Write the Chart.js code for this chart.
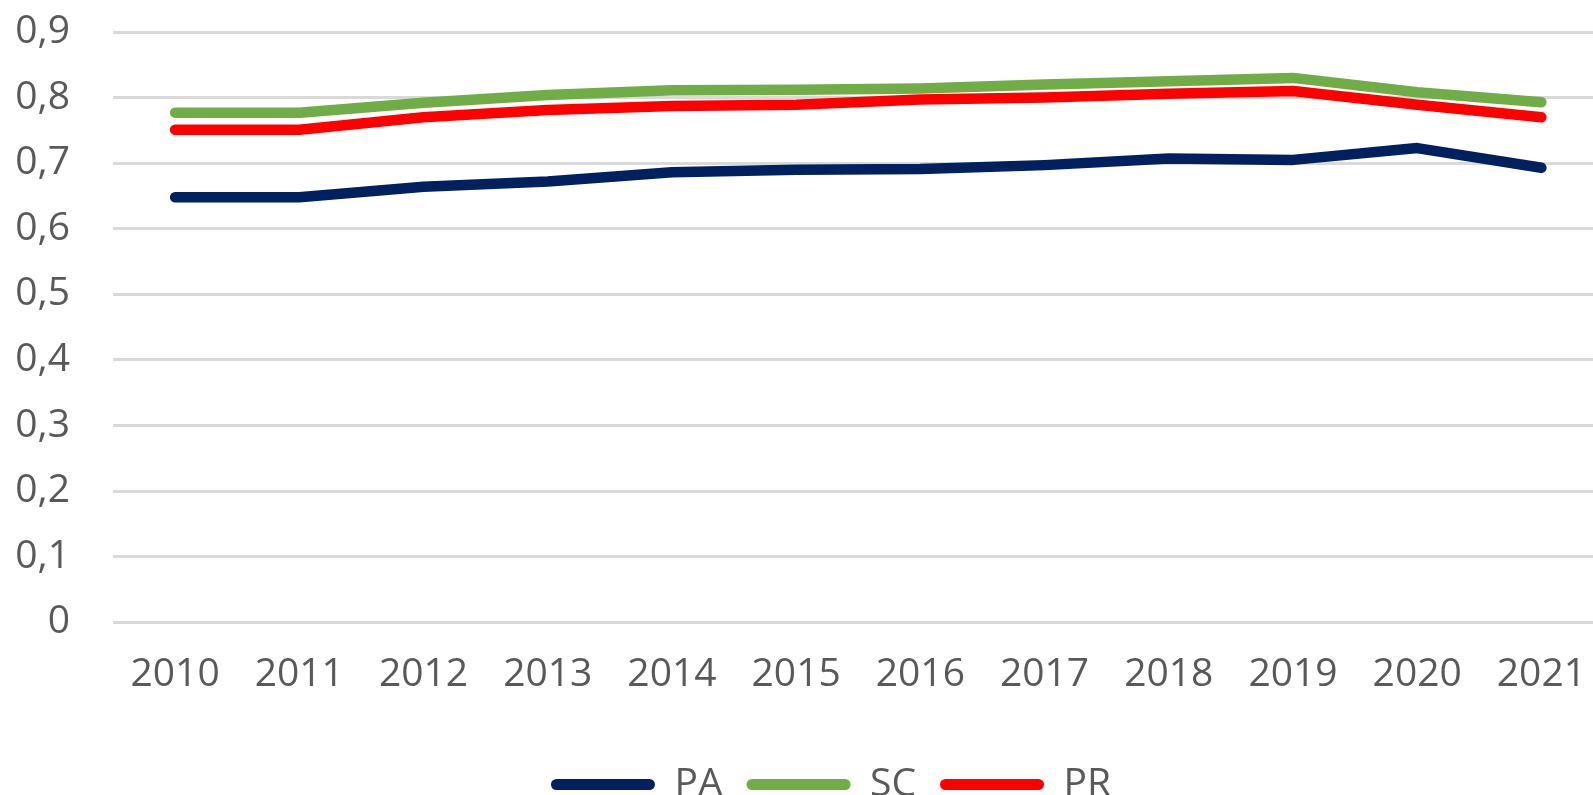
<!DOCTYPE html>
<html>
<head>
<meta charset="utf-8">
<script src="https://cdn.jsdelivr.net/npm/chart.js@4.4.1/dist/chart.umd.min.js"></script>
<style>
  html, body { margin: 0; padding: 0; background: #ffffff; overflow: hidden; }
  #wrap { position: absolute; left: 0; top: 0; width: 1607px; height: 814px; }
</style>
</head>
<body>
<div id="wrap"><canvas id="c"></canvas></div>
<script>
const categories = ['2010','2011','2012','2013','2014','2015','2016','2017','2018','2019','2020','2021'];
const seriesPA = [0.648,0.648,0.664,0.672,0.686,0.690,0.691,0.697,0.707,0.705,0.723,0.693];
const seriesSC = [0.777,0.777,0.792,0.804,0.811,0.812,0.814,0.820,0.825,0.830,0.808,0.793];
const seriesPR = [0.751,0.751,0.770,0.781,0.787,0.789,0.797,0.800,0.806,0.810,0.789,0.770];
const seriesNames = ['PA','SC','PR'];
const yTickLabels = ['0','0,1','0,2','0,3','0,4','0,5','0,6','0,7','0,8','0,9'];

const colors = ['#002060','#70AD47','#FF0000'];
const FONT = "'Open Sans', 'Noto Sans', sans-serif";
const TEXT = '#595959';

function mk(i, data) {
  return {
    label: seriesNames[i],
    data: data,
    borderColor: colors[i],
    backgroundColor: colors[i],
    borderWidth: 10.5,
    borderCapStyle: 'round',
    borderJoinStyle: 'round',
    pointRadius: 0,
    pointHoverRadius: 0,
    tension: 0,
    fill: false
  };
}

const shiftLegend = {
  id: 'shiftLegend',
  afterLayout: function(chart) {
    if (chart.legend) { chart.legend.left += 19; chart.legend.right += 19; }
  }
};

new Chart(document.getElementById('c'), {
  type: 'line',
  data: {
    labels: categories,
    datasets: [mk(0, seriesPA), mk(1, seriesSC), mk(2, seriesPR)]
  },
  plugins: [shiftLegend],
  options: {
    responsive: true,
    maintainAspectRatio: false,
    animation: false,
    layout: { padding: { left: 17, right: 0, top: 32, bottom: 0 } },
    plugins: {
      tooltip: { enabled: false },
      legend: {
        position: 'bottom',
        labels: {
          font: { family: FONT, size: 39 },
          color: TEXT,
          boxWidth: 104,
          boxHeight: 11,
          padding: 24,
          useBorderRadius: true,
          borderRadius: 5.5,
          generateLabels: function(chart) {
            return chart.data.datasets.map(function(ds, i) {
              return {
                text: ds.label,
                fillStyle: ds.borderColor,
                strokeStyle: ds.borderColor,
                lineWidth: 0,
                hidden: false,
                datasetIndex: i,
                fontColor: TEXT,
                borderRadius: 5.5
              };
            });
          }
        }
      }
    },
    scales: {
      x: {
        type: 'category',
        offset: true,
        grid: { display: false },
        border: { display: false },
        afterFit: function(scale) { scale.height += 22; },
        ticks: {
          font: { family: FONT, size: 39 },
          color: TEXT,
          padding: 21,
          maxRotation: 0,
          autoSkip: false
        }
      },
      y: {
        min: 0,
        max: 0.9,
        grid: { color: '#d9d9d9', lineWidth: 3, drawTicks: true, tickLength: 43, tickColor: 'rgba(0,0,0,0)' },
        border: { display: false },
        afterFit: function(scale) { scale.width = 96; },
        ticks: {
          stepSize: 0.1,
          font: { family: FONT, size: 39 },
          color: TEXT,
          padding: 0,
          callback: function(value, index) { return yTickLabels[index]; }
        }
      }
    }
  }
});
</script>
</body>
</html>
